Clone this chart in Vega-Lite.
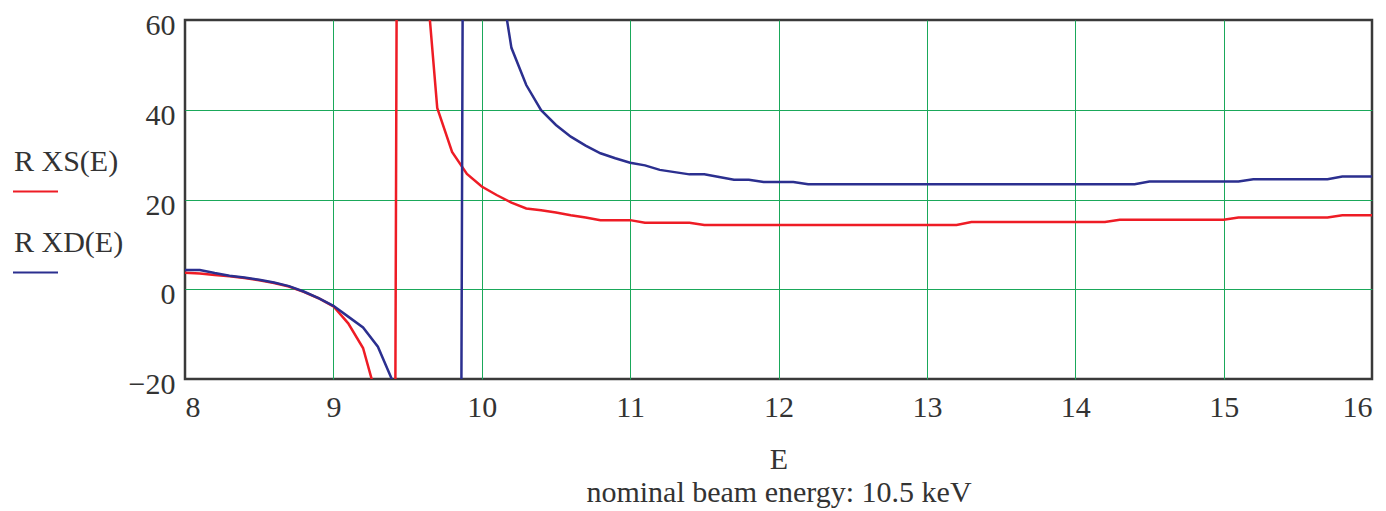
{
  "$schema": "https://vega.github.io/schema/vega-lite/v6.json",
  "width": 1187,
  "height": 359,
  "autosize": {"type": "none"},
  "padding": {"left": 185, "top": 20, "right": 14, "bottom": 132},
  "background": "white",
  "config": {
    "view": {"stroke": "#3a3a3a", "strokeWidth": 2.5},
    "font": "Liberation Serif",
    "style": {"guide-label": {"lineHeight": 60}},
    "axis": {
      "labelFont": "Liberation Serif",
      "labelFontSize": 30,
      "labelColor": "#333333",
      "titleFont": "Liberation Serif",
      "titleFontSize": 30,
      "titleFontWeight": "normal",
      "titleColor": "#333333",
      "domain": false,
      "ticks": false,
      "grid": true,
      "gridWidth": 1,
      "gridOpacity": 1
    }
  },
  "data": {
    "values": [
      {"E": 8.0, "R": 3.7, "series": "XS"},
      {"E": 8.1, "R": 3.5, "series": "XS"},
      {"E": 8.2, "R": 3.2, "series": "XS"},
      {"E": 8.3, "R": 2.9, "series": "XS"},
      {"E": 8.4, "R": 2.5, "series": "XS"},
      {"E": 8.5, "R": 2.0, "series": "XS"},
      {"E": 8.6, "R": 1.4, "series": "XS"},
      {"E": 8.7, "R": 0.6, "series": "XS"},
      {"E": 8.8, "R": -0.6, "series": "XS"},
      {"E": 8.9, "R": -2.0, "series": "XS"},
      {"E": 9.0, "R": -3.8, "series": "XS"},
      {"E": 9.1, "R": -7.6, "series": "XS"},
      {"E": 9.2, "R": -13.1, "series": "XS"},
      {"E": 9.3, "R": -25, "series": "XS"},
      {"E": 9.4, "R": -200, "series": "XS"},
      {"E": 9.5, "R": 800, "series": "XS"},
      {"E": 9.6, "R": 80, "series": "XS"},
      {"E": 9.7, "R": 40.4, "series": "XS"},
      {"E": 9.8, "R": 30.6, "series": "XS"},
      {"E": 9.9, "R": 25.7, "series": "XS"},
      {"E": 10.0, "R": 22.9, "series": "XS"},
      {"E": 10.1, "R": 21.0, "series": "XS"},
      {"E": 10.2, "R": 19.3, "series": "XS"},
      {"E": 10.3, "R": 18.0, "series": "XS"},
      {"E": 10.4, "R": 17.6, "series": "XS"},
      {"E": 10.5, "R": 17.1, "series": "XS"},
      {"E": 10.6, "R": 16.5, "series": "XS"},
      {"E": 10.7, "R": 16.0, "series": "XS"},
      {"E": 10.8, "R": 15.4, "series": "XS"},
      {"E": 11.0, "R": 15.4, "series": "XS"},
      {"E": 11.1, "R": 14.8, "series": "XS"},
      {"E": 11.4, "R": 14.8, "series": "XS"},
      {"E": 11.5, "R": 14.3, "series": "XS"},
      {"E": 13.2, "R": 14.3, "series": "XS"},
      {"E": 13.3, "R": 15.0, "series": "XS"},
      {"E": 14.2, "R": 15.0, "series": "XS"},
      {"E": 14.3, "R": 15.5, "series": "XS"},
      {"E": 15.0, "R": 15.5, "series": "XS"},
      {"E": 15.1, "R": 16.0, "series": "XS"},
      {"E": 15.7, "R": 16.0, "series": "XS"},
      {"E": 15.8, "R": 16.5, "series": "XS"},
      {"E": 16.0, "R": 16.5, "series": "XS"},
      {"E": 8.0, "R": 4.3, "series": "XD"},
      {"E": 8.1, "R": 4.3, "series": "XD"},
      {"E": 8.2, "R": 3.6, "series": "XD"},
      {"E": 8.3, "R": 3.0, "series": "XD"},
      {"E": 8.4, "R": 2.6, "series": "XD"},
      {"E": 8.5, "R": 2.1, "series": "XD"},
      {"E": 8.6, "R": 1.5, "series": "XD"},
      {"E": 8.7, "R": 0.7, "series": "XD"},
      {"E": 8.8, "R": -0.5, "series": "XD"},
      {"E": 8.9, "R": -2.0, "series": "XD"},
      {"E": 9.0, "R": -3.7, "series": "XD"},
      {"E": 9.1, "R": -6.1, "series": "XD"},
      {"E": 9.2, "R": -8.5, "series": "XD"},
      {"E": 9.3, "R": -12.8, "series": "XD"},
      {"E": 9.4, "R": -20.5, "series": "XD"},
      {"E": 9.5, "R": -60, "series": "XD"},
      {"E": 9.6, "R": -110, "series": "XD"},
      {"E": 9.7, "R": -220, "series": "XD"},
      {"E": 9.8, "R": -650, "series": "XD"},
      {"E": 9.9, "R": 350, "series": "XD"},
      {"E": 10.0, "R": 150, "series": "XD"},
      {"E": 10.1, "R": 74.5, "series": "XD"},
      {"E": 10.2, "R": 53.8, "series": "XD"},
      {"E": 10.3, "R": 45.5, "series": "XD"},
      {"E": 10.4, "R": 39.9, "series": "XD"},
      {"E": 10.5, "R": 36.6, "series": "XD"},
      {"E": 10.6, "R": 34.0, "series": "XD"},
      {"E": 10.7, "R": 32.0, "series": "XD"},
      {"E": 10.8, "R": 30.3, "series": "XD"},
      {"E": 10.9, "R": 29.2, "series": "XD"},
      {"E": 11.0, "R": 28.2, "series": "XD"},
      {"E": 11.1, "R": 27.6, "series": "XD"},
      {"E": 11.2, "R": 26.6, "series": "XD"},
      {"E": 11.3, "R": 26.1, "series": "XD"},
      {"E": 11.4, "R": 25.6, "series": "XD"},
      {"E": 11.5, "R": 25.6, "series": "XD"},
      {"E": 11.6, "R": 25.0, "series": "XD"},
      {"E": 11.7, "R": 24.4, "series": "XD"},
      {"E": 11.8, "R": 24.4, "series": "XD"},
      {"E": 11.9, "R": 23.9, "series": "XD"},
      {"E": 12.1, "R": 23.9, "series": "XD"},
      {"E": 12.2, "R": 23.4, "series": "XD"},
      {"E": 14.4, "R": 23.4, "series": "XD"},
      {"E": 14.5, "R": 24.0, "series": "XD"},
      {"E": 15.1, "R": 24.0, "series": "XD"},
      {"E": 15.2, "R": 24.5, "series": "XD"},
      {"E": 15.7, "R": 24.5, "series": "XD"},
      {"E": 15.8, "R": 25.1, "series": "XD"},
      {"E": 16.0, "R": 25.1, "series": "XD"}
    ]
  },
  "mark": {"type": "line", "clip": true, "strokeWidth": 2.5, "interpolate": "linear"},
  "encoding": {
    "x": {
      "field": "E",
      "type": "quantitative",
      "scale": {"domain": [8, 16], "nice": false, "zero": false},
      "axis": {
        "values": [8, 9, 10, 11, 12, 13, 14, 15, 16],
        "gridColor": {"condition": {"test": "datum.value == 8 || datum.value == 16", "value": "transparent"}, "value": "#1aa85a"},
        "labelPadding": 13,
        "title": ["E", "nominal beam energy: 10.5 keV"],
        "titlePadding": 22,
        "titleLineHeight": 33
      }
    },
    "y": {
      "field": "R",
      "type": "quantitative",
      "scale": {"domain": [-20, 60], "nice": false, "zero": false},
      "axis": {
        "values": [-20, 0, 20, 40, 60],
        "gridColor": {"condition": {"test": "datum.value == 60 || datum.value == -20", "value": "transparent"}, "value": "#1aa85a"},
        "labelPadding": 10,
        "labelOffset": 5.5,
        "labelExpr": "replace(datum.label, '-', '\u2212')",
        "title": null
      }
    },
    "color": {
      "field": "series",
      "type": "nominal",
      "scale": {"domain": ["XS", "XD"], "range": ["#ee1c25", "#2b2f8f"]},
      "legend": {
        "orient": "none",
        "legendX": -173,
        "legendY": 148,
        "title": null,
        "symbolType": "stroke",
        "symbolSize": 2025,
        "symbolStrokeWidth": 2,
        "labelFont": "Liberation Serif",
        "labelFontSize": 30,
        "labelColor": "#333333",
        "labelBaseline": "line-bottom",
        "labelOffset": -45,
        "labelExpr": "datum.label == 'XS' ? 'R XS(E)' : 'R XD(E)'",
        "rowPadding": 31
      }
    }
  }
}
